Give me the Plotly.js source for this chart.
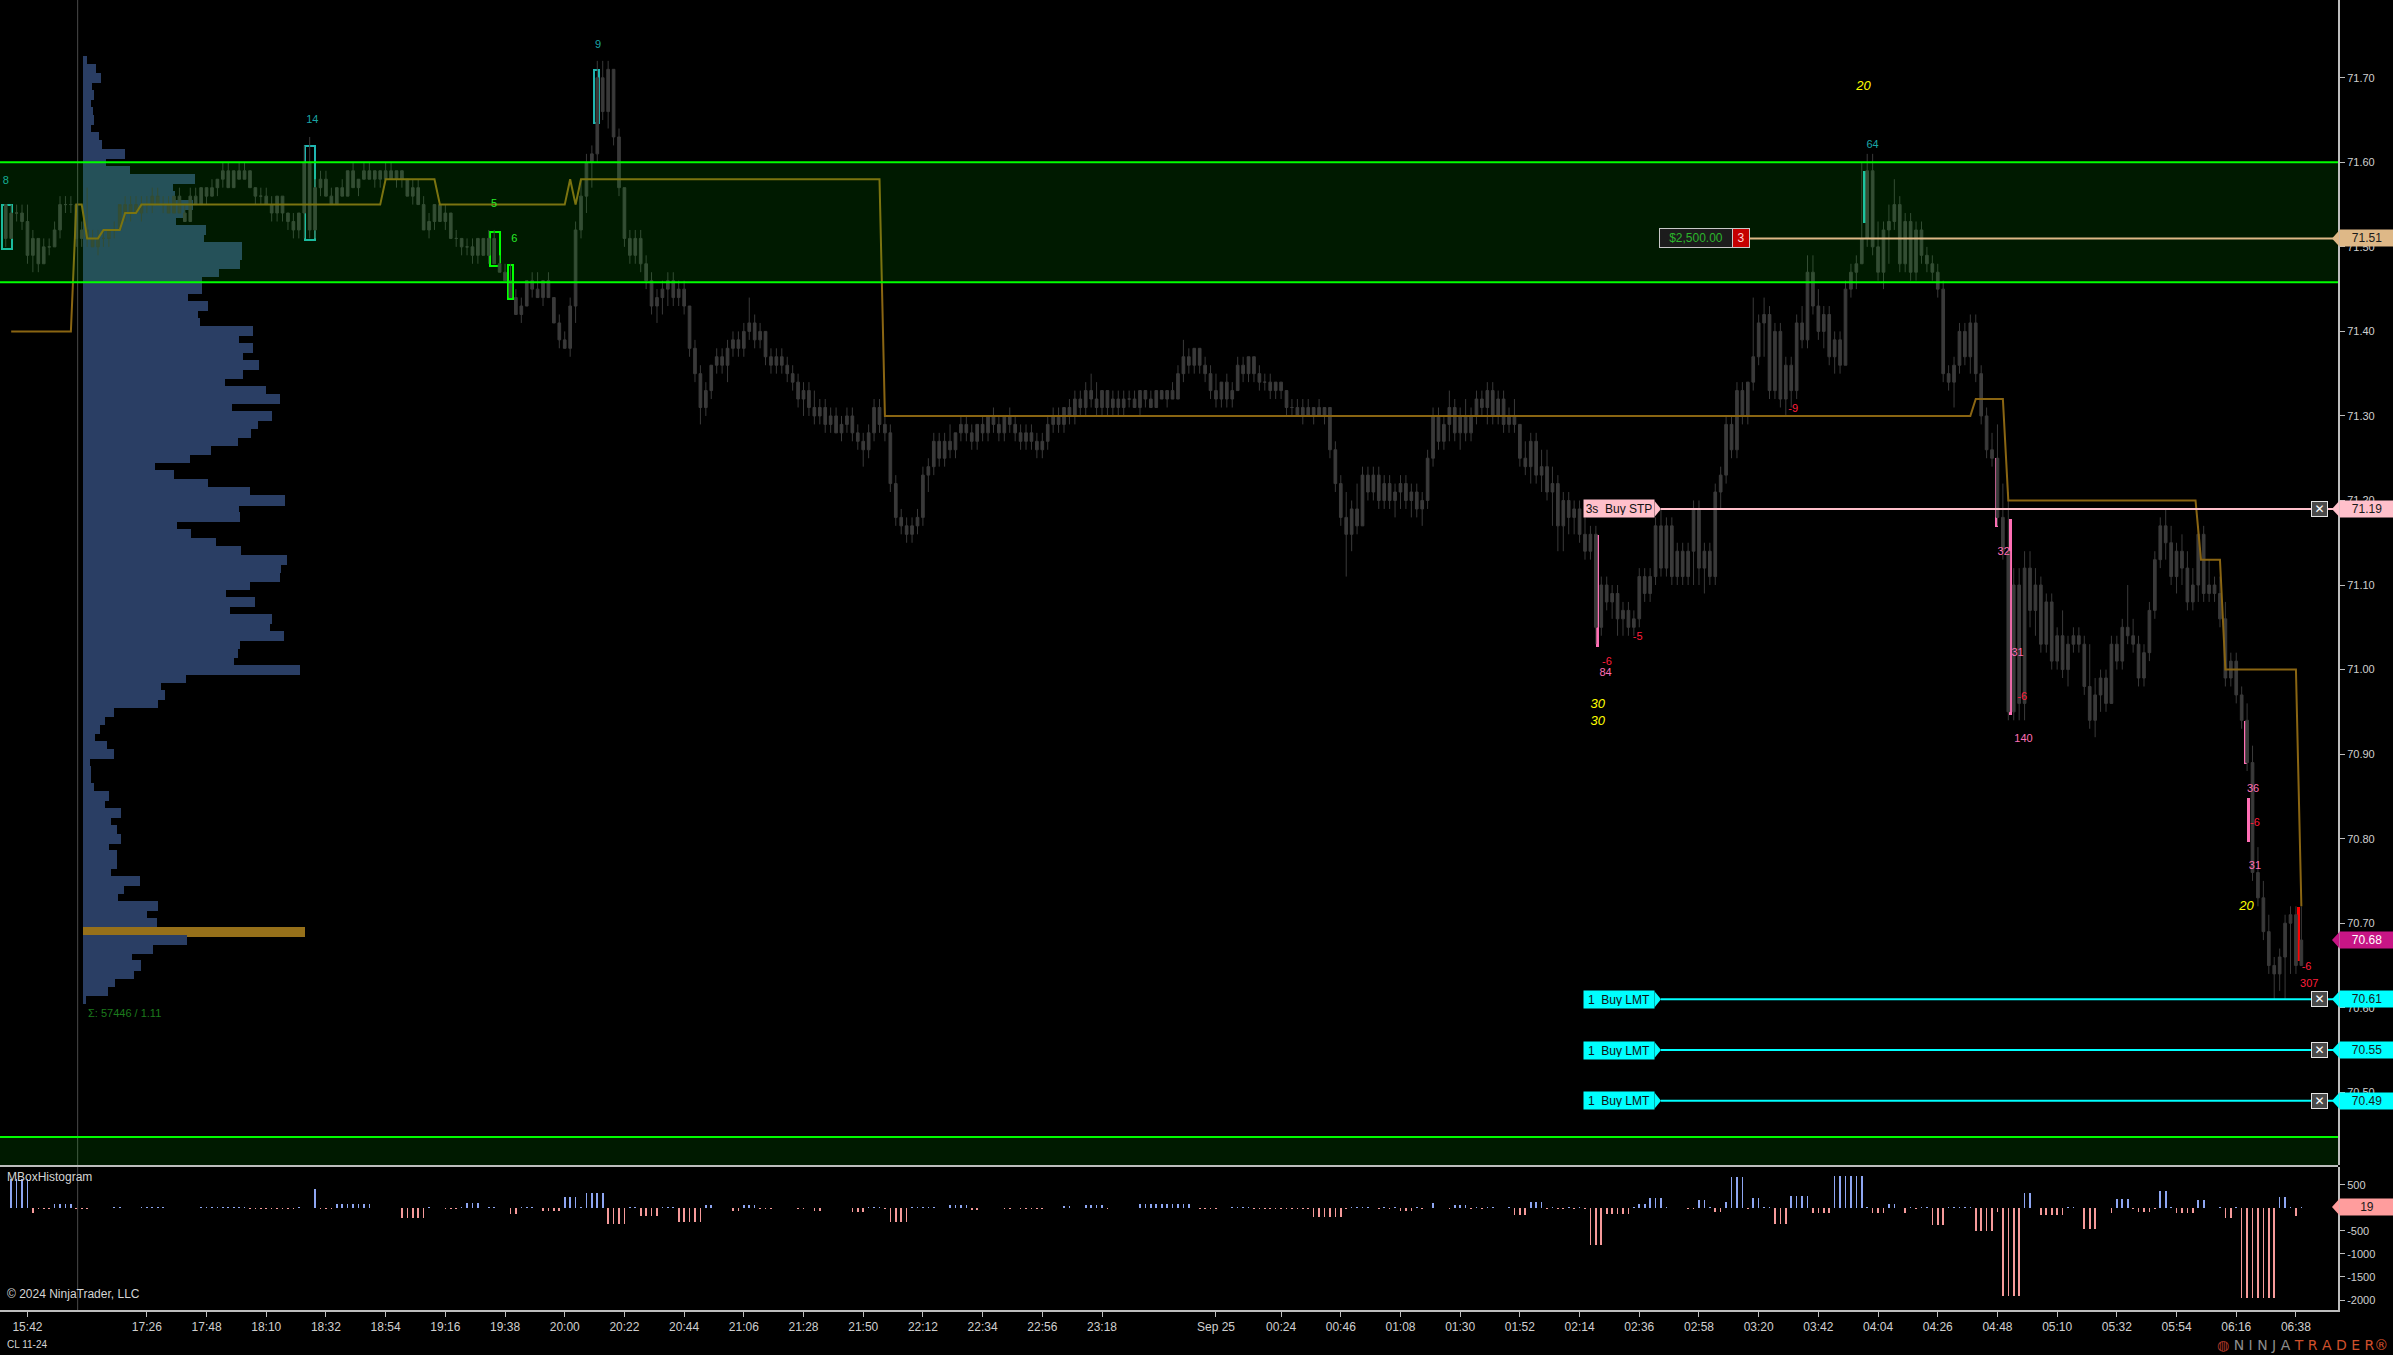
<!DOCTYPE html>
<html><head><meta charset="utf-8">
<script src="https://cdn.plot.ly/plotly-3.0.1.min.js"></script>
<style>html,body{margin:0;padding:0;background:#000;overflow:hidden}#chart{width:2393px;height:1355px}
#chart .barlayer path{shape-rendering:crispEdges}</style>
</head><body><div id="chart"></div>
<script>
// ---------------- DATA ----------------
// CL 11-24, 2-minute bars. Bar time axis = trading minutes after 15:42 (16:00-17:00 break removed).
const barStartMinute = -8, barStepMinutes = 2;

const openPx = [
71.55,71.51,71.54,71.54,71.53,71.49,71.51,71.48,71.50,71.50,
71.52,71.55,71.55,71.55,71.51,71.52,71.51,71.50,71.51,71.51,
71.52,71.52,71.55,71.54,71.55,71.54,71.55,71.55,71.56,71.55,
71.55,71.54,71.56,71.54,71.53,71.56,71.55,71.57,71.56,71.57,
71.58,71.59,71.57,71.59,71.58,71.59,71.57,71.56,71.56,71.55,
71.54,71.56,71.54,71.53,71.52,71.54,71.60,71.52,71.57,71.58,
71.56,71.55,71.57,71.56,71.59,71.57,71.58,71.59,71.58,71.59,
71.58,71.59,71.58,71.59,71.58,71.56,71.57,71.55,71.52,71.53,
71.55,71.53,71.54,71.51,71.51,71.50,71.50,71.49,71.51,71.49,
71.51,71.48,71.47,71.46,71.44,71.42,71.43,71.46,71.45,71.44,
71.46,71.44,71.41,71.39,71.38,71.43,71.52,71.56,71.60,71.61,
71.70,71.66,71.71,71.63,71.57,71.51,71.49,71.51,71.48,71.46,
71.43,71.44,71.45,71.46,71.44,71.45,71.43,71.38,71.35,71.31,
71.33,71.36,71.37,71.36,71.38,71.39,71.38,71.40,71.41,71.39,
71.40,71.37,71.36,71.37,71.36,71.35,71.34,71.32,71.33,71.31,
71.30,71.31,71.29,71.30,71.28,71.29,71.30,71.28,71.27,71.26,
71.28,71.31,71.29,71.28,71.22,71.18,71.17,71.16,71.17,71.18,
71.23,71.24,71.27,71.25,71.27,71.26,71.28,71.29,71.28,71.27,
71.29,71.28,71.30,71.29,71.28,71.30,71.29,71.28,71.27,71.28,
71.27,71.26,71.27,71.29,71.30,71.29,71.31,71.30,71.32,71.31,
71.33,71.32,71.31,71.33,71.31,71.32,71.31,71.32,71.32,71.31,
71.33,71.32,71.31,71.33,71.32,71.33,71.32,71.35,71.37,71.36,
71.38,71.36,71.35,71.33,71.32,71.34,71.32,71.33,71.36,71.35,
71.37,71.35,71.34,71.34,71.33,71.34,71.33,71.31,71.31,71.30,
71.31,71.30,71.31,71.30,71.31,71.26,71.22,71.18,71.16,71.19,
71.17,71.23,71.21,71.23,71.20,71.22,71.20,71.21,71.22,71.20,
71.21,71.19,71.20,71.25,71.30,71.27,71.29,71.31,71.28,71.30,
71.28,71.30,71.32,71.31,71.33,71.30,71.32,71.29,71.30,71.29,
71.25,71.24,71.27,71.23,71.24,71.21,71.22,71.17,71.20,71.18,
71.19,71.16,71.14,71.16,71.05,71.10,71.08,71.09,71.06,71.07,
71.05,71.06,71.11,71.09,71.11,71.17,71.12,71.17,71.11,71.14,
71.11,71.14,71.19,71.12,71.14,71.11,71.21,71.23,71.29,71.26,
71.33,71.30,71.34,71.37,71.41,71.42,71.33,71.40,71.32,71.36,
71.33,71.41,71.39,71.47,71.43,71.40,71.42,71.37,71.39,71.36,
71.45,71.47,71.48,71.51,71.59,71.50,71.47,71.52,71.53,71.55,
71.48,71.53,71.47,71.52,71.49,71.48,71.47,71.45,71.35,71.34,
71.36,71.40,71.37,71.41,71.35,71.30,71.26,71.25,71.18,71.14,
70.95,71.10,70.96,71.12,71.07,71.10,71.03,71.08,71.01,71.04,
71.00,71.03,71.04,71.03,70.98,70.94,70.97,70.99,70.96,71.03,
71.01,71.05,71.04,71.03,70.99,71.02,71.07,71.13,71.17,71.15,
71.11,71.14,71.12,71.08,71.10,71.16,71.09,71.10,71.09,71.06,
70.99,71.01,70.97,70.94,70.89,70.76,70.73,70.69,70.65,70.64,
70.66,70.70,70.71,70.65];

const highPx = [
71.55,71.55,71.55,71.55,71.55,71.52,71.51,71.51,71.51,71.53,
71.56,71.56,71.56,71.55,71.53,71.57,71.52,71.52,71.52,71.52,
71.53,71.55,71.56,71.56,71.56,71.56,71.56,71.57,71.57,71.56,
71.56,71.56,71.57,71.55,71.57,71.57,71.57,71.57,71.58,71.58,
71.60,71.60,71.59,71.60,71.60,71.59,71.57,71.57,71.57,71.56,
71.56,71.56,71.54,71.54,71.54,71.62,71.63,71.58,71.59,71.59,
71.57,71.57,71.58,71.59,71.60,71.58,71.60,71.60,71.59,71.59,
71.60,71.60,71.59,71.59,71.58,71.58,71.58,71.56,71.54,71.55,
71.55,71.55,71.54,71.52,71.51,71.51,71.51,71.51,71.51,71.52,
71.52,71.49,71.48,71.48,71.45,71.44,71.46,71.47,71.47,71.46,
71.47,71.44,71.42,71.40,71.44,71.53,71.58,71.61,71.62,71.72,
71.72,71.72,71.71,71.64,71.57,71.52,71.52,71.52,71.49,71.47,
71.45,71.46,71.47,71.47,71.46,71.46,71.43,71.39,71.36,71.34,
71.36,71.38,71.38,71.39,71.40,71.40,71.41,71.44,71.42,71.41,
71.40,71.38,71.38,71.38,71.37,71.36,71.35,71.34,71.34,71.33,
71.32,71.32,71.31,71.31,71.30,71.31,71.31,71.29,71.28,71.29,
71.32,71.32,71.30,71.29,71.23,71.19,71.18,71.18,71.19,71.24,
71.25,71.28,71.28,71.28,71.29,71.28,71.30,71.30,71.29,71.29,
71.30,71.30,71.31,71.30,71.30,71.31,71.30,71.29,71.29,71.29,
71.28,71.28,71.30,71.31,71.31,71.31,71.32,71.33,71.33,71.34,
71.35,71.34,71.33,71.33,71.33,71.33,71.33,71.33,71.33,71.33,
71.33,71.33,71.33,71.33,71.33,71.34,71.36,71.39,71.38,71.38,
71.38,71.37,71.36,71.35,71.34,71.35,71.34,71.37,71.37,71.37,
71.37,71.36,71.35,71.35,71.34,71.34,71.33,71.32,71.32,71.32,
71.32,71.31,71.32,71.31,71.31,71.27,71.23,71.21,71.20,71.22,
71.24,71.24,71.24,71.24,71.23,71.23,71.22,71.23,71.23,71.22,
71.22,71.21,71.26,71.31,71.31,71.30,71.33,71.32,71.31,71.32,
71.31,71.33,71.33,71.34,71.34,71.33,71.33,71.31,71.32,71.29,
71.27,71.28,71.28,71.26,71.26,71.24,71.23,71.21,71.21,71.20,
71.20,71.18,71.17,71.17,71.11,71.11,71.10,71.10,71.08,71.08,
71.07,71.12,71.12,71.12,71.18,71.19,71.18,71.18,71.15,71.15,
71.15,71.20,71.20,71.15,71.15,71.22,71.24,71.30,71.30,71.34,
71.34,71.34,71.44,71.42,71.44,71.43,71.41,71.41,71.37,71.37,
71.42,71.43,71.49,71.49,71.45,71.43,71.43,71.40,71.40,71.46,
71.48,71.49,71.60,71.61,71.61,71.53,71.53,71.55,71.58,71.56,
71.54,71.54,71.53,71.53,71.50,71.49,71.48,71.46,71.36,71.37,
71.41,71.41,71.42,71.42,71.36,71.31,71.28,71.29,71.22,71.21,
71.12,71.12,71.14,71.14,71.12,71.11,71.09,71.09,71.05,71.07,
71.04,71.05,71.05,71.04,71.03,70.99,71.00,71.00,71.04,71.04,
71.06,71.10,71.06,71.04,71.03,71.08,71.14,71.18,71.19,71.17,
71.15,71.16,71.14,71.12,71.17,71.17,71.13,71.11,71.11,71.08,
71.02,71.02,70.98,70.96,70.91,70.79,70.75,70.71,70.66,70.67,
70.71,70.72,70.72,70.72];

const lowPx = [
71.50,71.51,71.53,71.52,71.48,71.47,71.47,71.48,71.49,71.50,
71.51,71.54,71.54,71.50,71.50,71.50,71.50,71.49,71.50,71.50,
71.51,71.52,71.53,71.53,71.54,71.53,71.54,71.54,71.55,71.54,
71.54,71.54,71.54,71.53,71.53,71.55,71.55,71.55,71.56,71.56,
71.57,71.57,71.57,71.58,71.58,71.57,71.55,71.55,71.55,71.53,
71.53,71.53,71.52,71.51,71.51,71.51,71.51,71.51,71.56,71.56,
71.55,71.55,71.56,71.56,71.57,71.56,71.58,71.58,71.57,71.57,
71.58,71.58,71.57,71.57,71.56,71.55,71.55,71.52,71.51,71.52,
71.53,71.52,71.51,71.50,71.49,71.49,71.48,71.48,71.49,71.48,
71.48,71.47,71.46,71.44,71.42,71.41,71.43,71.44,71.44,71.43,
71.44,71.41,71.38,71.38,71.37,71.41,71.51,71.54,71.57,71.60,
71.65,71.64,71.62,71.56,71.50,71.48,71.48,71.47,71.45,71.42,
71.41,71.42,71.43,71.43,71.43,71.42,71.37,71.34,71.29,71.30,
71.32,71.35,71.35,71.34,71.37,71.37,71.37,71.39,71.38,71.38,
71.36,71.35,71.35,71.35,71.34,71.33,71.31,71.30,71.30,71.29,
71.29,71.28,71.28,71.28,71.27,71.28,71.27,71.26,71.24,71.25,
71.27,71.28,71.27,71.21,71.17,71.16,71.15,71.15,71.16,71.17,
71.21,71.23,71.24,71.24,71.25,71.25,71.27,71.27,71.26,71.26,
71.27,71.27,71.28,71.27,71.27,71.28,71.27,71.26,71.26,71.26,
71.25,71.25,71.26,71.28,71.28,71.28,71.29,71.29,71.30,71.30,
71.31,71.30,71.30,71.30,71.30,71.30,71.30,71.31,71.31,71.30,
71.31,71.31,71.31,71.32,71.31,71.32,71.32,71.34,71.35,71.35,
71.35,71.34,71.32,71.31,71.31,71.31,71.31,71.33,71.34,71.34,
71.34,71.33,71.33,71.32,71.32,71.32,71.30,71.30,71.30,71.29,
71.30,71.29,71.30,71.29,71.25,71.21,71.17,71.11,71.14,71.16,
71.17,71.20,71.20,71.19,71.19,71.19,71.18,71.19,71.19,71.18,
71.18,71.17,71.19,71.24,71.26,71.26,71.27,71.27,71.26,71.27,
71.27,71.29,71.30,71.29,71.29,71.29,71.28,71.28,71.28,71.24,
71.23,71.22,71.22,71.21,71.20,71.17,71.14,71.14,71.16,71.16,
71.15,71.13,71.13,71.03,71.04,71.07,71.06,71.04,71.04,71.04,
71.04,71.05,71.08,71.08,71.10,71.11,71.11,71.10,71.10,71.10,
71.10,71.10,71.10,71.09,71.10,71.10,71.19,71.22,71.25,71.25,
71.29,71.29,71.33,71.36,71.37,71.32,71.32,71.31,71.30,71.31,
71.32,71.38,71.38,71.42,71.39,71.38,71.36,71.35,71.35,71.36,
71.44,71.45,71.48,71.50,71.49,71.46,71.45,71.48,71.52,71.47,
71.47,71.46,71.46,71.48,71.47,71.46,71.44,71.34,71.33,71.31,
71.35,71.36,71.35,71.34,71.29,71.25,71.24,71.17,71.13,70.94,
70.94,70.94,70.94,71.05,71.04,71.02,71.02,71.00,71.00,70.99,
70.98,71.02,71.02,70.97,70.93,70.92,70.95,70.95,70.96,71.00,
71.00,71.03,71.02,70.98,70.98,71.01,71.06,71.12,71.13,71.10,
71.09,71.10,71.07,71.07,71.08,71.08,71.08,71.08,71.05,70.98,
70.98,70.96,70.93,70.88,70.75,70.72,70.68,70.64,70.61,70.62,
70.61,70.64,70.64,70.65];

const closePx = [
71.51,71.54,71.54,71.53,71.49,71.51,71.48,71.50,71.50,71.52,
71.55,71.55,71.55,71.51,71.52,71.51,71.50,71.51,71.51,71.52,
71.52,71.55,71.54,71.55,71.54,71.55,71.55,71.56,71.55,71.55,
71.54,71.56,71.54,71.53,71.56,71.55,71.57,71.56,71.57,71.58,
71.59,71.57,71.59,71.58,71.59,71.57,71.56,71.56,71.55,71.54,
71.56,71.54,71.53,71.52,71.54,71.60,71.52,71.57,71.58,71.56,
71.55,71.57,71.56,71.59,71.57,71.58,71.59,71.58,71.59,71.58,
71.59,71.58,71.59,71.58,71.56,71.57,71.55,71.52,71.53,71.55,
71.53,71.54,71.51,71.51,71.50,71.50,71.49,71.51,71.49,71.51,
71.48,71.47,71.46,71.44,71.42,71.43,71.46,71.45,71.44,71.46,
71.44,71.41,71.39,71.38,71.43,71.52,71.56,71.60,71.61,71.70,
71.66,71.71,71.63,71.57,71.51,71.49,71.51,71.48,71.46,71.43,
71.44,71.45,71.46,71.44,71.45,71.43,71.38,71.35,71.31,71.33,
71.36,71.37,71.36,71.38,71.39,71.38,71.40,71.41,71.39,71.40,
71.37,71.36,71.37,71.36,71.35,71.34,71.32,71.33,71.31,71.30,
71.31,71.29,71.30,71.28,71.29,71.30,71.28,71.27,71.26,71.28,
71.31,71.29,71.28,71.22,71.18,71.17,71.16,71.17,71.18,71.23,
71.24,71.27,71.25,71.27,71.26,71.28,71.29,71.28,71.27,71.29,
71.28,71.30,71.29,71.28,71.30,71.29,71.28,71.27,71.28,71.27,
71.26,71.27,71.29,71.30,71.29,71.31,71.30,71.32,71.31,71.33,
71.32,71.31,71.33,71.31,71.32,71.31,71.32,71.32,71.31,71.33,
71.32,71.31,71.33,71.32,71.33,71.32,71.35,71.37,71.36,71.38,
71.36,71.35,71.33,71.32,71.34,71.32,71.33,71.36,71.35,71.37,
71.35,71.34,71.34,71.33,71.34,71.33,71.31,71.31,71.30,71.31,
71.30,71.31,71.30,71.31,71.26,71.22,71.18,71.16,71.19,71.17,
71.23,71.21,71.23,71.20,71.22,71.20,71.21,71.22,71.20,71.21,
71.19,71.20,71.25,71.30,71.27,71.29,71.31,71.28,71.30,71.28,
71.30,71.32,71.31,71.33,71.30,71.32,71.29,71.30,71.29,71.25,
71.24,71.27,71.23,71.24,71.21,71.22,71.17,71.20,71.18,71.19,
71.16,71.14,71.16,71.05,71.10,71.08,71.09,71.06,71.07,71.05,
71.06,71.11,71.09,71.11,71.17,71.12,71.17,71.11,71.14,71.11,
71.14,71.19,71.12,71.14,71.11,71.21,71.23,71.29,71.26,71.33,
71.30,71.34,71.37,71.41,71.42,71.33,71.40,71.32,71.36,71.33,
71.41,71.39,71.47,71.43,71.40,71.42,71.37,71.39,71.36,71.45,
71.47,71.48,71.51,71.59,71.50,71.47,71.52,71.53,71.55,71.48,
71.53,71.47,71.52,71.49,71.48,71.47,71.45,71.35,71.34,71.36,
71.40,71.37,71.41,71.35,71.30,71.26,71.25,71.18,71.14,70.95,
71.10,70.96,71.12,71.07,71.10,71.03,71.08,71.01,71.04,71.00,
71.03,71.04,71.03,70.98,70.94,70.97,70.99,70.96,71.03,71.01,
71.05,71.04,71.03,70.99,71.02,71.07,71.13,71.17,71.15,71.11,
71.14,71.12,71.08,71.10,71.16,71.09,71.10,71.09,71.06,70.99,
71.01,70.97,70.94,70.89,70.76,70.73,70.69,70.65,70.64,70.66,
70.70,70.71,70.65,70.68];

// MBoxHistogram value per bar
const mboxHist = [
0,620,620,620,620,-116,-20,-20,-20,87,
87,87,87,-20,-20,-20,0,0,0,0,
15,15,0,0,0,15,15,15,15,15,
0,0,0,0,0,0,15,15,15,15,
15,15,15,15,15,-15,-15,-15,-15,-15,
-15,-15,-15,-15,15,0,0,413,-20,-20,
-20,87,87,87,87,87,87,87,0,0,
0,0,0,-217,-217,-217,-217,-217,15,0,
0,-25,-25,-25,15,109,109,109,0,15,
15,0,0,-123,-123,15,15,15,0,-65,
-65,-65,-65,246,246,246,15,333,333,333,
333,-341,-341,-341,-341,15,15,-167,-167,-167,
-167,15,15,15,-297,-297,-297,-297,-297,65,
65,0,0,0,-65,-65,65,65,65,-30,
-30,-30,0,0,0,0,-20,-20,0,-65,
-65,0,0,0,0,0,-87,-87,-87,20,
20,20,-20,-304,-304,-304,-304,20,20,20,
20,20,0,0,65,65,65,65,-40,-40,
0,0,0,0,-20,-20,0,-20,-20,-20,
-20,-20,0,0,0,40,40,0,0,65,
65,65,65,-20,0,0,0,0,0,87,
87,87,87,87,87,87,87,87,87,0,
-30,-30,-30,-30,0,0,30,30,30,30,
-25,-25,-25,-25,-25,-25,-25,-25,-25,-25,
-25,-196,-196,-196,-196,-196,-196,-20,20,25,
25,25,0,-20,20,-20,20,-65,-65,-65,
15,-15,0,100,0,0,-20,65,65,65,
-20,15,-20,15,15,0,0,15,-145,-145,
-145,130,130,130,-25,20,-25,-25,20,-25,
20,-25,-804,-804,-804,-138,-138,-138,-138,-138,
15,87,87,217,217,217,15,0,0,0,
-20,-20,174,174,15,-98,-98,130,680,680,
680,-20,210,210,30,30,-341,-341,-341,268,
268,268,268,-100,-100,-100,-100,696,696,696,
696,696,696,20,-100,-100,-100,87,87,0,
-100,20,-20,20,20,-370,-370,-370,20,20,
20,20,20,-493,-493,-493,-493,-80,-1906,-1906,
-1906,-1906,333,333,0,-152,-152,-152,-152,-152,
25,25,0,-457,-457,-457,0,0,-100,196,
196,196,-20,-80,-80,-80,-20,377,377,15,
-100,-100,-100,-100,174,174,0,0,15,-210,
-210,15,-1949,-1949,-1949,-1949,-1949,-1949,-1949,246,
246,30,-167,19];

// Volume profile of the session: one row per tick from the top price downward
const profileTopPrice = 71.72, profileTickSize = 0.01;
const profileVolume = [
20,65,90,45,55,40,50,55,40,80,95,210,115,235,
560,450,460,550,510,465,615,605,795,795,785,680,595,595,525,625,575,585,850,780,850,800,880,800,
710,915,985,745,945,875,840,775,640,535,360,455,625,835,1010,780,785,470,540,665,790,1020,990,985,835,715,860,735,945,935,1005,785,775,755,1085,
515,390,410,375,155,110,85,60,120,155,35,40,40,55,130,110,190,140,170,190,130,170,170,140,285,205,175,375,320,370,1110,520,350,245,290,255,160,125,15];
const profileTotalText = 'Σ: 57446 / 1.11';

// Step line (session POC migration): trading minute, price
const pocStepMinute = [-6,16,18,20,22,26,28,34,36,40,42,130,132,150,152,198,200,202,204,314,316,716,718,728,730,799,801,808,810,836,838];
const pocStepPrice  = [71.40,71.40,71.55,71.55,71.51,71.51,71.52,71.52,71.54,71.54,71.55,71.55,71.58,71.58,71.55,71.55,71.58,71.55,71.58,71.58,71.30,71.30,71.32,71.32,71.20,71.20,71.13,71.13,71.00,71.00,70.72];

// Supply/demand zones
const zoneLow  = [71.458, 70.30];
const zoneHigh = [71.600, 70.447];

// Outlined signal boxes
const boxMinute = [-7.6, 104, 209.6, 172.2, 177.9];
const boxLow    = [71.497, 71.508, 71.647, 71.477, 71.438];
const boxHigh   = [71.550, 71.619, 71.709, 71.518, 71.478];
const boxKind   = ['wide','wide','narrow','wide','narrow'];
const boxColor  = ['#1fb5b0','#1fb5b0','#1fb5b0','#00ff00','#00ff00'];

// Filled signal bars
const sigMinute = [578.5, 677.2, 725.8, 730.8, 817.5, 818.6, 836.8];
const sigLow    = [71.027, 71.528, 71.169, 70.946, 70.888, 70.796, 70.655];
const sigHigh   = [71.159, 71.590, 71.250, 71.178, 70.939, 70.848, 70.719];
const sigColor  = ['#ff6fb5','#1fc0b0','#ff6fb5','#ff6fb5','#ff6fb5','#ff6fb5','#ff0000'];

// Numeric annotations of the signals
const noteMinute = [-8, 105, 210.3, 172, 179.4, 680, 650.7, 593.4, 582.1, 581.6, 728.3, 733.4, 735.1, 735.6, 820.2, 820.9, 820.9, 839.9, 840.9];
const notePrice  = [71.578, 71.65, 71.738, 71.55, 71.509, 71.62, 71.308, 71.038, 71.009, 70.996, 71.139, 71.019, 70.967, 70.918, 70.859, 70.818, 70.767, 70.648, 70.628];
const noteText   = ['8','14','9','5','6','64','-9','-5','-6','84','32','31','-6','140','36','-6','31','-6','307'];
const noteColor  = ['#1aa6a6','#1aa6a6','#1aa6a6','#2ee82e','#2ee82e','#1aa6a6','#ff1e3c','#ff1e3c','#ff1e3c','#ff6fb5','#ff6fb5','#ff6fb5','#ff1e3c','#ff6fb5','#ff6fb5','#ff1e3c','#ff6fb5','#ff1e3c','#ff1e3c'];
const countMinute = [676.6, 578.7, 578.7, 817.8];
const countPrice  = [71.689, 70.958, 70.938, 70.719];
const countText   = ['20','30','30','20'];

// Working orders and position
const orderPrice = [71.19, 70.61, 70.55, 70.49];
const orderText  = ['3s\u00a0\u00a0Buy STP','1\u00a0\u00a0Buy LMT','1\u00a0\u00a0Buy LMT','1\u00a0\u00a0Buy LMT'];
const orderColor = ['#ffc0cb','#00ffff','#00ffff','#00ffff'];
const positionPrice = 71.51, positionPnL = '$2,500.00', positionQty = '3';
const lastPrice = 70.68, lastHist = 19;

// Time axis labels
const tickClock = ['15:42','17:26','17:48','18:10','18:32','18:54','19:16','19:38','20:00','20:22','20:44','21:06','21:28','21:50','22:12','22:34','22:56','23:18','00:00','00:24','00:46','01:08','01:30','01:52','02:14','02:36','02:58','03:20','03:42','04:04','04:26','04:48','05:10','05:32','05:54','06:16','06:38'];
const tickText  = ['15:42','17:26','17:48','18:10','18:32','18:54','19:16','19:38','20:00','20:22','20:44','21:06','21:28','21:50','22:12','22:34','22:56','23:18','Sep 25','00:24','00:46','01:08','01:30','01:52','02:14','02:36','02:58','03:20','03:42','04:04','04:26','04:48','05:10','05:32','05:54','06:16','06:38'];
const priceTicks = [70.5,70.6,70.7,70.8,70.9,71.0,71.1,71.2,71.3,71.4,71.5,71.6,71.7];
const histTicks = [500,-500,-1000,-1500,-2000];
const sessionBreakMinute = 18.5;

// ---------------- BUILD ----------------
function tradeMinutes(clocks){
  let day = 0, prev = -1;
  return clocks.map(c => {
    const [h, m] = c.split(':').map(Number);
    const mins = h*60 + m;
    if (mins < prev) day++;
    prev = mins;
    const abs = mins + day*1440;
    let t = abs - (15*60 + 42);
    if (abs >= 17*60) t -= 60;
    return t;
  });
}
const tickVals = tradeMinutes(tickClock);
const barX = closePx.map((_, i) => barStartMinute + i*barStepMinutes);
const profilePrice = profileVolume.map((_, i) => +(profileTopPrice - i*profileTickSize).toFixed(2));
const pocIdx = profileVolume.indexOf(Math.max(...profileVolume));

const X_RANGE = [-10.12, 851.5];
const Y_RANGE = [70.414, 71.792];
const H_RANGE = [-2217, 891];
const narrow = 'Liberation Sans Narrow, Arial Narrow, Liberation Sans, Arial, sans-serif';
const arial = 'Liberation Sans, Arial, sans-serif';
const candleGrey = '#3a3a3a';
// axes: 'x' = profile volume scale (base, hidden); 'x2' = time scale overlaying it (so price marks draw above the profile)
const T = 'x2';

const traces = [];
// volume profile (own horizontal scale)
traces.push({type:'bar', orientation:'h', x:profileVolume, y:profilePrice, base:0, width:profileTickSize*1.2,
  xaxis:'x', yaxis:'y', hoverinfo:'skip',
  marker:{color:profileVolume.map((v,i)=> i===pocIdx ? '#96701a' : '#2a3e64'), line:{width:0}}});
// candles
traces.push({type:'candlestick', x:barX, open:openPx, high:highPx, low:lowPx, close:closePx,
  xaxis:T, yaxis:'y', whiskerwidth:0, hoverinfo:'skip',
  increasing:{line:{color:candleGrey, width:1}, fillcolor:candleGrey},
  decreasing:{line:{color:candleGrey, width:1}, fillcolor:candleGrey}});
// POC step line
traces.push({type:'scatter', mode:'lines', x:pocStepMinute, y:pocStepPrice, xaxis:T, yaxis:'y',
  line:{color:'#8a6512', width:2}, hoverinfo:'skip'});
// outlined boxes
traces.push({type:'bar', x:boxMinute, y:boxHigh.map((h,i)=>h-boxLow[i]), base:boxLow,
  width:boxKind.map(k => k==='wide' ? 3.6 : 1.7), xaxis:T, yaxis:'y', hoverinfo:'skip',
  marker:{color:'rgba(0,0,0,0)', line:{color:boxColor, width:2}}});
// filled signal bars
traces.push({type:'bar', x:sigMinute, y:sigHigh.map((h,i)=>h-sigLow[i]), base:sigLow,
  width:1.15, xaxis:T, yaxis:'y', hoverinfo:'skip', marker:{color:sigColor, line:{width:0}}});
// signal numbers
traces.push({type:'scatter', mode:'text', x:noteMinute, y:notePrice, text:noteText, xaxis:T, yaxis:'y',
  textposition:'middle center', cliponaxis:false, hoverinfo:'skip',
  textfont:{family:arial, size:11, color:noteColor}});
traces.push({type:'scatter', mode:'text', x:countMinute, y:countPrice, text:countText, xaxis:T, yaxis:'y',
  textposition:'middle center', cliponaxis:false, hoverinfo:'skip',
  textfont:{family:arial, size:13, color:'#ffff00', style:'italic'}});
// MBox histogram
traces.push({type:'bar', x:barX, y:mboxHist, width:0.6, xaxis:T, yaxis:'y2', hoverinfo:'skip',
  marker:{color:mboxHist.map(v => v >= 0 ? '#8ea6f2' : '#f69a9a'), line:{width:0}}});

// shapes
const shapes = [];
shapes.push({type:'line', xref:T, yref:'paper', x0:sessionBreakMinute, x1:sessionBreakMinute, y0:0, y1:1,
  line:{color:'#4a4a4a', width:1}, layer:'above'});
zoneLow.forEach((lo, i) => {
  shapes.push({type:'rect', xref:T, yref:'y', x0:X_RANGE[0], x1:X_RANGE[1], y0:lo, y1:zoneHigh[i],
    fillcolor:'rgba(0,255,0,0.10)', line:{width:0}, layer:'above'});
  [lo, zoneHigh[i]].forEach(p => shapes.push({type:'line', xref:T, yref:'y', x0:X_RANGE[0], x1:X_RANGE[1], y0:p, y1:p,
    line:{color:'#00ff00', width:2}, layer:'above'}));
});
// panel separator
shapes.push({type:'line', xref:'paper', yref:'paper', x0:0, x1:1, y0:0.1100, y1:0.1100, line:{color:'#bdbdbd', width:2}});
// order / position lines
const ORDER_X0 = 0.7104, POS_X0 = 0.7485;
orderPrice.forEach((p, i) => shapes.push({type:'line', xref:'paper', yref:'y', x0:ORDER_X0, x1:1, y0:p, y1:p,
  line:{color:orderColor[i], width:2}, layer:'above'}));
shapes.push({type:'line', xref:'paper', yref:'y', x0:POS_X0, x1:1, y0:positionPrice, y1:positionPrice,
  line:{color:'#deb887', width:2}, layer:'above'});
function tri(xTip, xBase, y, half, yref, color){
  return {type:'path', xref:'paper', yref:yref, path:`M ${xTip},${y} L ${xBase},${y+half} L ${xBase},${y-half} Z`,
    fillcolor:color, line:{width:0}, layer:'above'};
}
const PH = 0.0093;
orderPrice.forEach((p, i) => shapes.push(tri(0.71044, 0.70770, p, PH, 'y', orderColor[i])));

// annotations
const annotations = [];
orderPrice.forEach((p, i) => annotations.push({xref:'paper', yref:'y', x:0.70787, y:p, xanchor:'right', yanchor:'middle',
  text:orderText[i], showarrow:false, bgcolor:orderColor[i], width:66, height:13, borderpad:2,
  font:{family:narrow, size:12, color:'#111'}, align:'center'}));
annotations.push({xref:'paper', yref:'y', x:0.7252, y:positionPrice, xanchor:'center', yanchor:'middle', text:positionPnL,
  showarrow:false, bgcolor:'#1c1c1c', bordercolor:'#c8c8c8', borderwidth:1, borderpad:2, width:68, height:14,
  font:{family:arial, size:12, color:'#2bb52b'}});
annotations.push({xref:'paper', yref:'y', x:0.7446, y:positionPrice, xanchor:'center', yanchor:'middle', text:positionQty,
  showarrow:false, bgcolor:'#c40000', bordercolor:'#c8c8c8', borderwidth:1, borderpad:2, width:12, height:14,
  font:{family:arial, size:12, color:'#ffd0d0'}});
// close buttons
orderPrice.forEach(p => annotations.push({xref:'paper', yref:'y', x:0.9923, y:p, xanchor:'center', yanchor:'middle',
  text:'<b>✕</b>', showarrow:false, bgcolor:'#4a4a4a', bordercolor:'#e6e6e6', borderwidth:1, borderpad:1, width:13, height:12,
  font:{family:'DejaVu Sans, sans-serif', size:12, color:'#ffffff'}}));
// right axis tags
const rightTags = [
  {y:positionPrice, ref:'y', bg:'#deb887', fg:'#1a1a1a', txt:positionPrice.toFixed(2)},
  {y:orderPrice[0], ref:'y', bg:orderColor[0], fg:'#1a1a1a', txt:orderPrice[0].toFixed(2)},
  {y:lastPrice, ref:'y', bg:'#c71585', fg:'#ffffff', txt:lastPrice.toFixed(2)},
  {y:orderPrice[1], ref:'y', bg:orderColor[1], fg:'#1a1a1a', txt:orderPrice[1].toFixed(2)},
  {y:orderPrice[2], ref:'y', bg:orderColor[2], fg:'#1a1a1a', txt:orderPrice[2].toFixed(2)},
  {y:orderPrice[3], ref:'y', bg:orderColor[3], fg:'#1a1a1a', txt:orderPrice[3].toFixed(2)},
  {y:lastHist, ref:'y2', bg:'#ff9d9d', fg:'#1a1a1a', txt:String(lastHist)}
];
rightTags.forEach(t => {
  annotations.push({xref:'paper', yref:t.ref, x:1.0004, y:t.y, xanchor:'left', yanchor:'middle', text:t.txt, showarrow:false,
    bgcolor:t.bg, borderpad:2, width:50, height:12, align:'center', font:{family:arial, size:12, color:t.fg}});
  shapes.push(tri(0.99743, 1.0005, t.y, t.ref==='y' ? PH : 174, t.ref, t.bg));
});
// texts
annotations.push({xref:'paper', yref:'y', x:0.0366, y:70.594, xanchor:'left', yanchor:'middle', text:profileTotalText,
  showarrow:false, font:{family:arial, size:11, color:'#1c7a1c'}});
annotations.push({xref:'paper', yref:'paper', x:0.002, y:0.1015, xanchor:'left', yanchor:'middle', text:'MBoxHistogram',
  showarrow:false, font:{family:narrow, size:12, color:'#d4d4d4'}});
annotations.push({xref:'paper', yref:'paper', x:0.002, y:0.0122, xanchor:'left', yanchor:'middle', text:'© 2024 NinjaTrader, LLC',
  showarrow:false, font:{family:narrow, size:12, color:'#d4d4d4'}});
annotations.push({xref:'paper', yref:'paper', x:0.002, y:-0.0267, xanchor:'left', yanchor:'middle', text:'CL 11-24',
  showarrow:false, font:{family:narrow, size:10, color:'#d4d4d4'}});
annotations.push({xref:'paper', yref:'paper', x:1.0222, y:-0.0270, xanchor:'right', yanchor:'middle',
  text:'<span style="color:#b0392a">◍</span> <span style="color:#8c8c8c">N I N J A </span><span style="color:#d0502c">T R A D E R</span><span style="color:#d0502c">®</span>',
  showarrow:false, font:{family:'DejaVu Sans, sans-serif', size:14}});

const axisGrey = '#bdbdbd';
const layout = {
  width:2393, height:1355,
  paper_bgcolor:'#000000', plot_bgcolor:'#000000',
  margin:{l:0, r:55, t:0, b:45, pad:0},
  showlegend:false, hovermode:false, dragmode:false, barmode:'overlay',
  font:{family:arial, color:'#d0d0d0'},
  xaxis:{domain:[0,1], anchor:'y', range:[-413, 11277], visible:false, fixedrange:true,
    showgrid:false, zeroline:false, rangeslider:{visible:false}},
  xaxis2:{overlaying:'x', anchor:'y2', range:X_RANGE, tickmode:'array', tickvals:tickVals, ticktext:tickText,
    ticks:'outside', ticklen:5, tickcolor:axisGrey, tickfont:{family:narrow, size:12, color:'#cfcfcf'},
    showgrid:false, zeroline:false, showline:true, linecolor:axisGrey, linewidth:2,
    rangeslider:{visible:false}, fixedrange:true},
  yaxis:{domain:[0.1107,1], anchor:'x2', side:'right', range:Y_RANGE, tickmode:'array', tickvals:priceTicks,
    ticktext:priceTicks.map(v=>v.toFixed(2)), ticks:'outside', ticklen:5, tickcolor:axisGrey,
    tickfont:{family:arial, size:11, color:'#cfcfcf'}, showgrid:false, zeroline:false, showline:true,
    linecolor:axisGrey, linewidth:2, fixedrange:true},
  yaxis2:{domain:[0,0.1092], anchor:'x2', side:'right', range:H_RANGE, tickmode:'array', tickvals:histTicks,
    ticktext:histTicks.map(String), ticks:'outside', ticklen:5, tickcolor:axisGrey,
    tickfont:{family:arial, size:11, color:'#cfcfcf'}, showgrid:false, zeroline:false, showline:true,
    linecolor:axisGrey, linewidth:2, fixedrange:true},
  shapes:shapes, annotations:annotations
};

if (![openPx, highPx, lowPx, mboxHist].every(a => a.length === closePx.length)) {
  console.error('length mismatch', openPx.length, highPx.length, lowPx.length, closePx.length, mboxHist.length);
}
Plotly.newPlot('chart', traces, layout, {staticPlot:true, displayModeBar:false});
</script></body></html>
